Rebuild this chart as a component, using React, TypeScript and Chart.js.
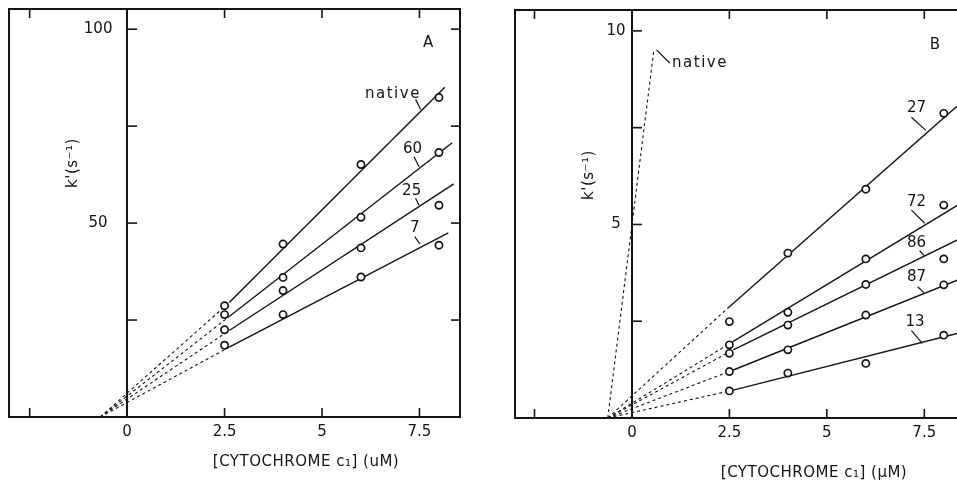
import React, { useEffect, useRef } from 'react';
import { Chart, registerables } from 'chart.js';

Chart.register(...registerables);

const INK = '#141414';
const FONT = '"DejaVu Sans", "Liberation Sans", sans-serif';

// ---------- Panel A data ----------
const concA = [2.5, 4, 6, 8];
const kNativeA = [28.7, 44.6, 65.1, 82.4];
const k60A = [26.4, 36.0, 51.5, 68.2];
const k25A = [22.5, 32.6, 43.6, 54.6];
const k7A = [18.5, 26.4, 36.1, 44.3];

// fitted lines: [x1, y1, x2, y2]
const fitNativeA = [2.62, 29.5, 8.15, 85.0];
const fit60A = [2.62, 25.9, 8.34, 70.7];
const fit25A = [2.62, 22.3, 8.38, 60.1];
const fit7A = [2.62, 18.0, 8.24, 47.5];
// dashed extrapolations
const dashNativeA = [-0.69, 0, 2.62, 29.5];
const dash60A = [-0.69, 0, 2.62, 25.9];
const dash25A = [-0.69, 0, 2.62, 22.3];
const dash7A = [-0.69, 0, 2.62, 18.0];

const xTickValues = [-2.5, 0, 2.5, 5, 7.5];
const xTickLabels = ['', '0', '2.5', '5', '7.5'];
const yTickValuesA = [25, 50, 75, 100];
const yTickLabelsA = ['', '50', '', '100'];

const labelsA = [
  { text: 'A', x: 7.72, y: 96.4 },
  { text: 'native', x: 6.82, y: 83.2 },
  { text: '60', x: 7.32, y: 69.0 },
  { text: '25', x: 7.3, y: 58.3 },
  { text: '7', x: 7.38, y: 48.6 },
];
const leadersA = [
  [7.4, 81.9, 7.53, 79.3],
  [7.36, 67.1, 7.49, 64.5],
  [7.4, 56.4, 7.49, 54.6],
  [7.38, 46.5, 7.51, 44.6],
];

// ---------- Panel B data ----------
const concB = [2.5, 4, 6, 8];
const k27B = [2.49, 4.26, 5.91, 7.87];
const k72B = [1.89, 2.73, 4.11, 5.5];
const k86B = [1.67, 2.4, 3.45, 4.11];
const k87B = [1.2, 1.76, 2.66, 3.44];
const k13B = [0.7, 1.16, 1.41, 2.14];

const fit27B = [2.45, 2.83, 8.57, 8.26];
const fit72B = [2.6, 1.98, 8.57, 5.63];
const fit86B = [2.6, 1.76, 8.57, 4.71];
const fit87B = [2.6, 1.24, 8.57, 3.65];
const fit13B = [2.6, 0.72, 8.57, 2.24];
const dashNativeB = [-0.62, 0, 0.56, 9.49];
const dash27B = [-0.62, 0, 2.45, 2.83];
const dash72B = [-0.62, 0, 2.6, 1.98];
const dash86B = [-0.62, 0, 2.6, 1.76];
const dash87B = [-0.62, 0, 2.6, 1.24];
const dash13B = [-0.62, 0, 2.6, 0.72];

const yTickValuesB = [2.5, 5, 7.5, 10];
const yTickLabelsB = ['', '5', '', '10'];

const labelsB = [
  { text: 'B', x: 7.77, y: 9.64 },
  { text: 'native', x: 1.03, y: 9.18, align: 'left' },
  { text: '27', x: 7.3, y: 8.0 },
  { text: '72', x: 7.3, y: 5.59 },
  { text: '86', x: 7.3, y: 4.51 },
  { text: '87', x: 7.3, y: 3.65 },
  { text: '13', x: 7.26, y: 2.49 },
];
const leadersB = [
  [0.63, 9.51, 0.97, 9.17],
  [7.17, 7.77, 7.54, 7.43],
  [7.17, 5.37, 7.51, 5.03],
  [7.38, 4.32, 7.51, 4.18],
  [7.33, 3.39, 7.49, 3.24],
  [7.17, 2.26, 7.45, 1.93],
];

// ---------- helpers ----------
const seg = (s: number[]) => [
  { x: s[0], y: s[1] },
  { x: s[2], y: s[3] },
];

const pointsDs = (xs: number[], ys: number[]) => ({
  type: 'scatter',
  data: xs.map((x, i) => ({ x, y: ys[i] })),
  pointRadius: 3.6,
  pointBorderWidth: 1.7,
  pointBackgroundColor: '#ffffff',
  pointBorderColor: INK,
  showLine: false,
  order: 0,
});

const lineDs = (s: number[], dashed = false) => ({
  type: 'line',
  data: seg(s),
  borderColor: INK,
  borderWidth: dashed ? 1.1 : 1.4,
  borderDash: dashed ? [3, 3] : [],
  pointRadius: 0,
  showLine: true,
  fill: false,
  order: 1,
});

type PanelCfg = {
  width: number;
  padding: { left: number; right: number; top: number; bottom: number };
  xAxisHeight: number;
  xMin: number;
  xMax: number;
  yMax: number;
  yTicks: number[];
  yTickLabels: string[];
  yLabelOffset: number;
  datasets: any[];
  labels: { text: string; x: number; y: number; align?: string }[];
  leaders: number[][];
  xTitle: string;
  xTitlePos: [number, number];
  yTitlePos: [number, number];
};

function decor(cfg: PanelCfg) {
  return {
    id: 'decor',
    afterDraw(chart: any) {
      const { ctx, chartArea: a } = chart;
      const xs = chart.scales.x;
      const ys = chart.scales.y;
      const ln = (x1: number, y1: number, x2: number, y2: number) => {
        ctx.beginPath();
        ctx.moveTo(x1, y1);
        ctx.lineTo(x2, y2);
        ctx.stroke();
      };
      ctx.save();
      ctx.strokeStyle = INK;
      ctx.fillStyle = INK;
      ctx.lineWidth = 2;
      ctx.strokeRect(a.left, a.top, a.right - a.left, a.bottom - a.top);
      ctx.lineWidth = 1.6;
      for (const v of xTickValues) {
        if (v === 0) continue;
        const px = xs.getPixelForValue(v);
        ln(px, a.bottom, px, a.bottom - 9);
        ln(px, a.top, px, a.top + 9);
      }
      const x0 = xs.getPixelForValue(0);
      for (const v of cfg.yTicks) {
        const py = ys.getPixelForValue(v);
        ln(a.right, py, a.right - 9, py);
        ln(x0, py, x0 + 10, py);
      }
      ctx.lineWidth = 1.2;
      for (const l of cfg.leaders) {
        ln(xs.getPixelForValue(l[0]), ys.getPixelForValue(l[1]), xs.getPixelForValue(l[2]), ys.getPixelForValue(l[3]));
      }
      ctx.font = `15px ${FONT}`;
      ctx.textBaseline = 'middle';
      // y tick labels, placed on the y scale
      ctx.textAlign = 'center';
      (ctx as any).letterSpacing = '0px';
      cfg.yTicks.forEach((v, i) => {
        const t = cfg.yTickLabels[i];
        if (t) ctx.fillText(t, x0 - cfg.yLabelOffset, ys.getPixelForValue(v));
      });
      for (const lb of cfg.labels) {
        ctx.textAlign = (lb.align as CanvasTextAlign) || 'center';
        (ctx as any).letterSpacing = lb.text === 'native' ? '1.5px' : '0px';
        ctx.fillText(lb.text, xs.getPixelForValue(lb.x), ys.getPixelForValue(lb.y));
      }
      (ctx as any).letterSpacing = '0.5px';
      ctx.textAlign = 'center';
      ctx.fillText(cfg.xTitle, cfg.xTitlePos[0], cfg.xTitlePos[1]);
      ctx.translate(cfg.yTitlePos[0], cfg.yTitlePos[1]);
      ctx.rotate(-Math.PI / 2);
      ctx.fillText("k'(s\u207B\u00B9)", 0, 0);
      ctx.restore();
    },
  };
}

function buildConfig(cfg: PanelCfg): any {
  const zeroPad = (s: any) => {
    s.paddingLeft = 0;
    s.paddingRight = 0;
    s.paddingTop = 0;
    s.paddingBottom = 0;
  };
  return {
    type: 'scatter',
    data: { datasets: cfg.datasets },
    options: {
      responsive: false,
      animation: false,
      devicePixelRatio: 1,
      layout: { padding: cfg.padding },
      plugins: { legend: { display: false }, tooltip: { enabled: false } },
      scales: {
        x: {
          type: 'linear',
          min: cfg.xMin,
          max: cfg.xMax,
          grid: { display: false, drawTicks: false },
          border: { display: false },
          afterBuildTicks: (s: any) => {
            s.ticks = xTickValues.map((v) => ({ value: v }));
          },
          afterFit: (s: any) => {
            s.height = cfg.xAxisHeight;
            zeroPad(s);
          },
          ticks: {
            autoSkip: false,
            maxRotation: 0,
            padding: 6,
            color: INK,
            font: { family: FONT, size: 15 },
            callback: (_v: any, i: number) => xTickLabels[i] ?? '',
          },
        },
        y: {
          type: 'linear',
          position: { x: 0 },
          min: 0,
          max: cfg.yMax,
          grid: { display: false, drawTicks: false },
          border: { display: true, color: INK, width: 2 },
          afterBuildTicks: (s: any) => {
            s.ticks = cfg.yTicks.map((v) => ({ value: v }));
          },
          afterFit: (s: any) => zeroPad(s),
          ticks: { display: false },
        },
      },
    },
    plugins: [decor(cfg)],
  };
}

const panelA: PanelCfg = {
  width: 480,
  padding: { left: 9, right: 20, top: 9, bottom: 0 },
  xAxisHeight: 70,
  xMin: -3.03,
  xMax: 8.54,
  yMax: 105.2,
  yTicks: yTickValuesA,
  yTickLabels: yTickLabelsA,
  yLabelOffset: 29,
  datasets: [
    pointsDs(concA, kNativeA),
    pointsDs(concA, k60A),
    pointsDs(concA, k25A),
    pointsDs(concA, k7A),
    lineDs(fitNativeA),
    lineDs(fit60A),
    lineDs(fit25A),
    lineDs(fit7A),
    lineDs(dashNativeA, true),
    lineDs(dash60A, true),
    lineDs(dash25A, true),
    lineDs(dash7A, true),
  ],
  labels: labelsA,
  leaders: leadersA,
  xTitle: '[CYTOCHROME c\u2081] (uM)',
  xTitlePos: [306, 462],
  yTitlePos: [73, 163],
};

const panelB: PanelCfg = {
  width: 500,
  padding: { left: 35, right: 14, top: 10, bottom: 0 },
  xAxisHeight: 69,
  xMin: -3.0,
  xMax: 8.57,
  yMax: 10.54,
  yTicks: yTickValuesB,
  yTickLabels: yTickLabelsB,
  yLabelOffset: 16,
  datasets: [
    pointsDs(concB, k27B),
    pointsDs(concB, k72B),
    pointsDs(concB, k86B),
    pointsDs(concB, k87B),
    pointsDs(concB, k13B),
    lineDs(fit27B),
    lineDs(fit72B),
    lineDs(fit86B),
    lineDs(fit87B),
    lineDs(fit13B),
    lineDs(dashNativeB, true),
    lineDs(dash27B, true),
    lineDs(dash72B, true),
    lineDs(dash86B, true),
    lineDs(dash87B, true),
    lineDs(dash13B, true),
  ],
  labels: labelsB,
  leaders: leadersB,
  xTitle: '[CYTOCHROME c\u2081] (\u00B5M)',
  xTitlePos: [334, 473],
  yTitlePos: [109, 175],
};

function Panel({ cfg, left }: { cfg: PanelCfg; left: number }) {
  const ref = useRef<HTMLCanvasElement>(null);
  useEffect(() => {
    const chart = new Chart(ref.current as HTMLCanvasElement, buildConfig(cfg));
    return () => chart.destroy();
  }, []);
  return (
    <canvas
      ref={ref}
      width={cfg.width}
      height={487}
      style={{ position: 'absolute', left, top: 0, width: cfg.width, height: 487 }}
    />
  );
}

export default function App() {
  return (
    <div
      style={{
        position: 'fixed',
        left: 0,
        top: 0,
        width: 957,
        height: 487,
        overflow: 'hidden',
        background: '#ffffff',
      }}
    >
      <Panel cfg={panelA} left={0} />
      <Panel cfg={panelB} left={480} />
    </div>
  );
}
